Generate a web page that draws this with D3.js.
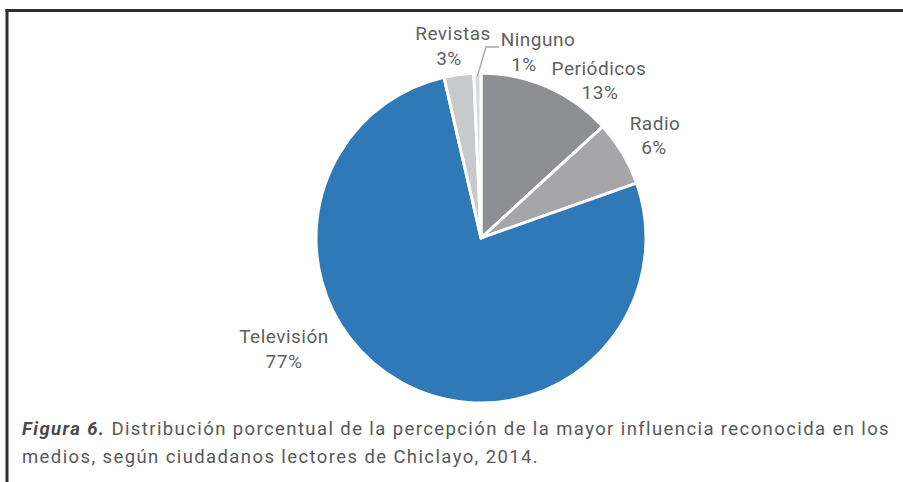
<!DOCTYPE html>
<html>
<head>
<meta charset="utf-8">
<script src="https://cdn.jsdelivr.net/npm/d3@7"></script>
<style>
  html, body { margin: 0; padding: 0; background: #fff; }
  svg { display: block; font-family: Roboto, "DejaVu Sans", sans-serif; }
</style>
</head>
<body>
<svg id="chart" width="903" height="482"></svg>
<script>
// ---- data ----
const categories = ["Periódicos", "Radio", "Televisión", "Revistas", "Ninguno"];
const values = [13.2, 6.4, 76.8, 2.9, 0.7];
const percentLabels = ["13%", "6%", "77%", "3%", "1%"];
const colors = ["#8e8f92", "#a6a6a8", "#3079b8", "#c8c9cb", "#d9dadc"];
const captionBold = "Figura 6.";
const captionLine1 = " Distribución porcentual de la percepción de la mayor influencia reconocida en los";
const captionLine2 = "medios, según ciudadanos lectores de Chiclayo, 2014.";

// ---- layout ----
const W = 903, H = 482;
const cx = 481, cy = 238, R = 165;
// label anchor positions (name baseline / percent baseline)
const labelPos = [
  {x: 599, y: 75, px: 600, py: 99},
  {x: 655, y: 130, px: 654, py: 154},
  {x: 284, y: 343, px: 284, py: 368},
  {x: 453, y: 40, px: 449, py: 65},
  {x: 538, y: 46, px: 524, py: 71}
];

const svg = d3.select("#chart");

// frame
svg.append("line").attr("x1", 5.5).attr("x2", W).attr("y1", 10.5).attr("y2", 10.5)
  .attr("stroke", "#2e2e2e").attr("stroke-width", 3);
svg.append("line").attr("x1", 7).attr("x2", 7).attr("y1", 9).attr("y2", H)
  .attr("stroke", "#2e2e2e").attr("stroke-width", 3);

const data = categories.map((c, i) => ({cat: c, value: values[i], label: percentLabels[i], color: colors[i], pos: labelPos[i]}));

const pie = d3.pie().sort(null).value(d => d.value);
const arc = d3.arc().innerRadius(0).outerRadius(R);
const arcs = pie(data);

const g = svg.append("g").attr("transform", `translate(${cx},${cy})`);
g.selectAll("path").data(arcs).enter().append("path")
  .attr("d", arc)
  .attr("fill", d => d.data.color)
  .attr("stroke", "#fff")
  .attr("stroke-width", 3)
  .attr("stroke-linejoin", "round");

// leader line for Ninguno
const ning = arcs[4];
const ang = (ning.startAngle + ning.endAngle) / 2;
const p0 = [cx + Math.sin(ang) * (R - 3), cy - Math.cos(ang) * (R - 3)];
svg.append("polyline")
  .attr("points", `${p0[0]},${p0[1]} 486,47 499,47`)
  .attr("fill", "none").attr("stroke", "#a6a6a6").attr("stroke-width", 1.3);

// labels
const lab = svg.append("g").attr("fill", "#5f5f5f").style("font-size", "19px").style("letter-spacing", "0.5px");
data.forEach(d => {
  lab.append("text").attr("x", d.pos.x).attr("y", d.pos.y).attr("text-anchor", "middle").text(d.cat);
  lab.append("text").attr("x", d.pos.px).attr("y", d.pos.py).attr("text-anchor", "middle").text(d.label);
});

// caption
const cap = svg.append("g").style("font-size", "18.5px").style("letter-spacing", "1.4px").attr("fill", "#58595b");
const t1 = cap.append("text").attr("x", 22).attr("y", 435);
t1.append("tspan").attr("font-weight", "bold").attr("font-style", "italic").attr("fill", "#4a4a4a").text(captionBold);
t1.append("tspan").text(captionLine1);
cap.append("text").attr("x", 22).attr("y", 463).text(captionLine2);
</script>
</body>
</html>
